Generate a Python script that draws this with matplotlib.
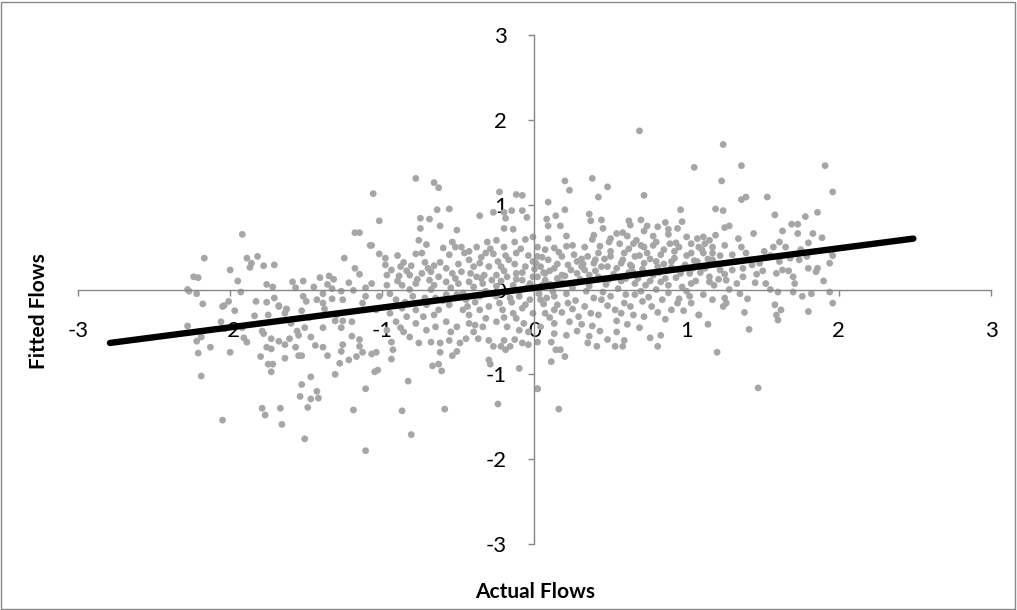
import matplotlib.pyplot as plt
from matplotlib.patches import Rectangle
import numpy as np

# (actual, fitted) pairs, grouped by region
left_pts = [
    (-2.28, 0.0), (-2.24, 0.15), (-2.17, 0.37), (-2.21, 0.14), (-2.27, -0.02), (-2.22, -0.05),
    (-2.18, -0.17), (-1.92, 0.65), (-2.0, 0.23), (-1.89, 0.37), (-1.82, 0.39), (-1.86, 0.31),
    (-1.87, 0.26), (-1.78, 0.28), (-1.71, 0.29), (-1.76, 0.06), (-1.72, 0.03), (-1.59, 0.09),
    (-1.52, 0.10), (-1.57, 0.02), (-1.41, 0.14), (-1.35, 0.16), (-1.32, 0.12), (-1.25, 0.37),
    (-1.18, 0.67), (-1.15, 0.67), (-1.18, 0.25), (-1.15, 0.18), (-1.36, 0.06), (-1.33, 0.01),
    (-1.93, -0.03), (-2.01, -0.14), (-2.04, -0.19), (-1.83, -0.14), (-1.76, -0.15), (-1.71, -0.10),
    (-1.68, -0.19), (-1.63, -0.23), (-1.52, -0.08), (-1.50, -0.14), (-1.43, -0.12), (-1.39, -0.05),
    (-1.39, -0.16), (-1.33, -0.11), (-1.27, -0.02), (-1.26, -0.12), (-1.19, -0.01), (-1.11, -0.08),
    (-1.11, 0.02), (-1.08, 0.52), (-1.97, -0.25), (-1.68, -0.20), (-1.63, -0.23), (-1.84, -0.31),
    (-1.75, -0.30), (-1.64, -0.28), (-1.53, -0.25), (-1.38, -0.23), (-1.13, -0.16), (-2.28, -0.43),
    (-2.06, -0.38), (-2.22, -0.61), (-2.19, -0.56), (-2.21, -0.75), (-2.13, -0.68), (-2.0, -0.74),
    (-2.19, -1.02), (-2.05, -1.54), (-1.79, -0.49), (-1.78, -0.52), (-1.91, -0.57), (-1.89, -0.62),
    (-1.73, -0.58), (-1.68, -0.61), (-1.64, -0.65), (-1.61, -0.58), (-1.76, -0.68), (-1.73, -0.70),
    (-1.80, -0.79), (-1.75, -0.88), (-1.72, -0.88), (-1.73, -0.97), (-1.64, -0.81), (-1.56, -0.49),
    (-1.55, -0.54), (-1.51, -0.45), (-1.47, -0.56), (-1.57, -0.68), (-1.55, -0.78), (-1.53, -0.78),
    (-1.44, -0.66), (-1.39, -0.45), (-1.39, -0.68), (-1.36, -0.78), (-1.31, -0.37), (-1.27, -0.45),
    (-1.26, -0.37), (-1.20, -0.38), (-1.26, -0.65), (-1.27, -0.73), (-1.28, -0.87), (-1.22, -0.83),
    (-1.17, -0.79), (-1.15, -0.59), (-1.15, -0.67), (-1.13, -0.74), (-1.31, -1.00), (-1.47, -1.03),
    (-1.53, -1.12), (-1.54, -1.26), (-1.47, -1.29), (-1.43, -1.20), (-1.42, -1.28), (-1.49, -1.39),
    (-1.66, -1.59), (-1.67, -1.40), (-1.79, -1.40), (-1.77, -1.48), (-1.51, -1.76), (-1.19, -1.42),
    (-1.11, -1.17), (-1.11, -1.90), (-2.05, -0.20), (-1.95, 0.10), (-1.45, 0.03), (-1.22, 0.08),
    (-1.30, -0.30), (-1.48, -0.33), (-1.92, -0.45), (-1.60, -0.40), (-1.20, -0.55),
]

center_pts = [
    (-1.06, 1.13), (-0.78, 1.31), (-0.66, 1.26), (-0.63, 1.20), (-1.02, 0.81), (-0.75, 0.84),
    (-0.69, 0.83), (-0.64, 0.94), (-0.56, 0.95), (-0.75, 0.72), (-0.62, 0.75), (-0.51, 0.70),
    (-0.36, 0.87), (-0.27, 0.91), (-0.23, 1.15), (-0.12, 1.12), (-0.08, 1.11), (-0.20, 0.91),
    (-0.15, 0.93), (-0.19, 0.84), (-0.08, 0.93), (-0.05, 0.85), (-0.20, 0.72), (-0.14, 0.71),
    (-1.07, 0.52), (-0.76, 0.58), (-0.71, 0.53), (-0.60, 0.49), (-0.54, 0.56), (-0.52, 0.50),
    (-1.02, 0.42), (-0.98, 0.37), (-0.90, 0.40), (-0.98, 0.29), (-0.86, 0.32), (-0.88, 0.27),
    (-0.81, 0.28), (-0.78, 0.42), (-0.74, 0.43), (-0.72, 0.32), (-0.66, 0.28), (-0.62, 0.32),
    (-0.56, 0.41), (-0.48, 0.50), (-0.46, 0.43), (-0.43, 0.45), (-0.38, 0.50), (-0.31, 0.56),
    (-0.25, 0.58), (-0.20, 0.50), (-0.13, 0.56), (-0.06, 0.59), (-0.01, 0.62), (-0.32, 0.43),
    (-0.27, 0.42), (-0.19, 0.40), (-0.12, 0.43), (-0.43, 0.35), (-0.36, 0.31), (-0.30, 0.27),
    (-0.22, 0.27), (-0.13, 0.30), (-0.06, 0.27), (-0.01, 0.33), (-0.97, 0.17), (-0.89, 0.16),
    (-0.82, 0.17), (-0.74, 0.19), (-0.68, 0.21), (-0.63, 0.15), (-0.54, 0.19), (-0.48, 0.21),
    (-0.42, 0.19), (-0.38, 0.15), (-0.33, 0.17), (-0.25, 0.17), (-0.18, 0.15), (-0.12, 0.19),
    (-1.07, 0.07), (-0.97, 0.05), (-0.87, 0.05), (-0.78, 0.07), (-0.69, 0.11), (-0.58, 0.09),
    (-0.50, 0.07), (-0.43, 0.09), (-0.34, 0.07), (-0.28, 0.11), (-0.08, 0.11), (-0.01, 0.15),
    (-1.04, -0.74), (-1.07, -0.76), (-1.03, -0.95), (-1.05, -0.97), (-0.94, -0.62), (-0.93, -0.71),
    (-0.94, -0.82), (-0.86, -0.50), (-0.83, -1.08), (-0.87, -1.43), (-0.81, -1.71), (-0.59, -1.41),
    (-0.24, -1.35), (-0.10, -0.93), (0.02, -1.17), (-0.76, -0.63), (-0.71, -0.48), (-0.68, -0.62),
    (-0.67, -0.90), (-0.63, -0.88), (-0.61, -0.96), (-0.62, -0.63), (-0.62, -0.74), (-0.56, -0.60),
    (-0.54, -0.78), (-0.51, -0.73), (-0.49, -0.63), (-0.45, -0.58), (-0.39, -0.42), (-0.37, -0.58),
    (-0.30, -0.60), (-0.30, -0.83), (-0.29, -0.88), (-0.27, -0.67), (-0.22, -0.67), (-0.20, -0.60),
    (-0.19, -0.71), (-0.16, -0.67), (-0.13, -0.59), (-0.08, -0.63), (-0.04, -0.65), (-0.78, -0.40),
    (-0.73, -0.32), (-0.65, -0.44), (-0.58, -0.38), (-0.51, -0.44), (-0.43, -0.40), (-0.34, -0.44),
    (-0.25, -0.38), (-0.18, -0.44), (-0.10, -0.48), (-0.07, -0.40), (-0.91, -0.38), (-0.97, -0.48),
    (-0.84, -0.32), (-1.04, -0.24), (-0.95, -0.28), (-0.87, -0.22), (-0.78, -0.24), (-0.71, -0.18),
    (-0.63, -0.24), (-0.56, -0.18), (-0.47, -0.24), (-0.43, -0.30), (-0.36, -0.24), (-0.30, -0.20),
    (-0.21, -0.24), (-0.14, -0.28), (-0.08, -0.22), (-0.01, -0.28), (-1.02, -0.08), (-0.91, -0.12),
    (-0.80, -0.08), (-0.65, -0.10), (-0.51, -0.06), (-0.45, -0.12), (-0.36, -0.08), (-0.25, -0.08),
    (-0.16, -0.10), (-0.10, -0.08), (-0.03, -0.12), (-0.05, 0.02), (-0.12, 0.12), (-0.18, -0.03),
    (-0.25, 0.04), (-0.32, -0.02), (-0.40, 0.03), (-0.47, -0.04), (-0.55, 0.02), (-0.60, -0.13),
    (-0.68, 0.0), (-0.72, -0.10), (-0.82, 0.0), (-0.85, -0.15), (-0.90, 0.10), (-0.95, -0.05),
    (-0.15, -0.15), (-0.06, -0.18), (0.0, 0.24), (-0.08, 0.20), (-0.20, 0.22),
    (-0.03, 0.07), (-0.10, -0.02), (-0.14, 0.05), (-0.22, 0.10), (-0.28, -0.05), (-0.35, 0.13),
    (-0.39, -0.15), (-0.44, -0.20), (-0.52, 0.13), (-0.58, -0.06), (-0.66, 0.05), (-0.70, 0.25),
    (-0.77, 0.12), (-0.84, 0.22), (-0.94, 0.23), (-0.04, 0.40), (-0.09, 0.48), (-0.17, 0.35),
    (-0.24, 0.33), (-0.29, 0.48), (-0.35, 0.38), (-0.40, 0.27), (-0.50, 0.30), (-0.58, 0.25),
    (-0.23, -0.16), (-0.12, -0.34), (-0.04, -0.50), (-0.20, -0.33), (-0.32, -0.34), (-0.40, -0.50),
    (-0.55, -0.50), (-0.66, -0.30), (-0.82, -0.56), (-0.88, -0.45),
]

right_pts = [
    (0.69, 1.87), (1.05, 1.44), (0.20, 1.28), (0.23, 1.17), (0.38, 1.31), (0.48, 1.21),
    (0.42, 1.09), (0.72, 1.11), (0.09, 1.03), (0.08, 0.83), (0.14, 0.87), (0.20, 0.94),
    (0.09, 0.75), (0.17, 0.75), (0.36, 0.89), (0.37, 0.81), (0.44, 0.82), (0.45, 0.72),
    (0.62, 0.81), (0.63, 0.76), (0.70, 0.82), (0.74, 0.75), (0.72, 0.69), (0.81, 0.74),
    (0.86, 0.79), (0.96, 0.94), (0.97, 0.80), (0.94, 0.72), (0.88, 0.71), (0.09, 0.60),
    (0.21, 0.63), (0.39, 0.64), (0.38, 0.59), (0.50, 0.60), (0.54, 0.66), (0.58, 0.67),
    (0.61, 0.63), (0.65, 0.54), (0.78, 0.63), (0.88, 0.65), (1.00, 0.62), (1.07, 0.60),
    (0.21, 0.51), (0.33, 0.50), (0.43, 0.51), (0.49, 0.56), (0.70, 0.52), (0.78, 0.52),
    (0.89, 0.54), (0.95, 0.50), (1.03, 0.54), (0.02, 0.50), (0.07, 0.47), (0.13, 0.49),
    (0.02, 0.39), (0.09, 0.35), (0.18, 0.39), (0.26, 0.41), (0.35, 0.39), (0.42, 0.43),
    (0.50, 0.39), (0.59, 0.43), (0.66, 0.39), (0.74, 0.43), (0.83, 0.41), (0.92, 0.45),
    (1.03, 0.43), (1.10, 0.47), (0.04, 0.27), (0.13, 0.25), (0.22, 0.29), (0.31, 0.27),
    (0.39, 0.31), (0.48, 0.27), (0.57, 0.31), (0.64, 0.27), (0.72, 0.31), (0.81, 0.27),
    (0.90, 0.33), (0.99, 0.29), (1.07, 0.33), (0.07, 0.19), (0.18, 0.17), (0.28, 0.19),
    (0.07, 0.11), (0.02, 0.15), (0.66, 0.07), (0.88, 0.05), (1.03, 0.07),
    (0.02, -1.17), (0.16, -1.41), (0.11, -0.85), (0.20, -0.79), (0.14, -0.71), (0.17, -0.71),
    (0.02, -0.62), (0.11, -0.62), (0.21, -0.54), (0.28, -0.49), (0.35, -0.63), (0.41, -0.67),
    (0.48, -0.59), (0.53, -0.67), (0.58, -0.67), (0.59, -0.60), (0.54, -0.50), (0.61, -0.41),
    (0.69, -0.45), (0.76, -0.57), (0.81, -0.67), (0.83, -0.54), (0.65, -0.30), (1.08, -0.30),
    (0.36, -0.55), (0.43, -0.49), (0.13, -0.52), (0.31, -0.41), (0.38, -0.43), (0.54, -0.37),
    (0.23, -0.38), (0.13, -0.40), (0.04, -0.44), (0.04, -0.12), (0.13, -0.08), (0.22, -0.16),
    (0.33, -0.20), (0.44, -0.12), (0.53, -0.24), (0.50, -0.08), (0.66, -0.06), (0.77, -0.20),
    (0.84, -0.12), (0.90, -0.24), (0.94, -0.16), (1.02, -0.08), (1.03, -0.16), (0.71, -0.14),
    (0.59, -0.16), (0.37, -0.28), (0.13, -0.24), (0.07, -0.28),
    (0.05, 0.05), (0.12, -0.02), (0.18, 0.08), (0.25, 0.02), (0.30, 0.12), (0.36, 0.04),
    (0.42, 0.15), (0.47, 0.06), (0.52, 0.18), (0.57, 0.10), (0.62, 0.20), (0.68, 0.13),
    (0.73, 0.05), (0.78, 0.17), (0.83, 0.09), (0.87, 0.22), (0.93, 0.14), (0.97, 0.03),
    (1.02, 0.19), (1.06, 0.10), (0.08, -0.10), (0.15, -0.18), (0.21, -0.05), (0.27, -0.13),
    (0.34, -0.02), (0.39, -0.10), (0.45, -0.03), (0.55, 0.01), (0.60, -0.06), (0.70, -0.02),
    (0.75, -0.09), (0.80, 0.0), (0.88, -0.04), (0.95, -0.11), (1.00, -0.02), (0.10, 0.22),
    (0.20, 0.16), (0.33, 0.23), (0.44, 0.27), (0.58, 0.35), (0.63, 0.29), (0.76, 0.36),
    (0.85, 0.30), (0.92, 0.37), (0.98, 0.26), (1.05, 0.34), (0.03, -0.05), (0.05, 0.38),
    (0.15, 0.30), (0.28, 0.33), (0.40, 0.35), (0.50, 0.45), (0.62, 0.48), (0.72, 0.50),
    (0.85, 0.47), (0.93, 0.55),
    (0.01, 0.31), (0.06, 0.20), (0.10, 0.06), (0.15, 0.13), (0.24, 0.23), (0.27, 0.08),
    (0.32, 0.30), (0.36, 0.17), (0.40, 0.22), (0.46, 0.36), (0.49, 0.12), (0.54, 0.25),
    (0.60, 0.13), (0.65, 0.20), (0.69, 0.40), (0.71, 0.24), (0.76, 0.10), (0.80, 0.33),
    (0.82, 0.20), (0.86, 0.13), (0.90, 0.26), (0.96, 0.19), (1.00, 0.40), (1.04, 0.25),
    (0.06, -0.17), (0.10, -0.33), (0.18, -0.27), (0.25, -0.23), (0.29, -0.32), (0.42, -0.30),
    (0.48, -0.19), (0.57, -0.28), (0.63, -0.20), (0.72, -0.32), (0.81, -0.27), (0.86, -0.35),
    (0.98, -0.25), (0.16, 0.44), (0.25, 0.52), (0.31, 0.36), (0.56, 0.54), (0.67, 0.58),
    (0.80, 0.56), (1.08, 0.50),
    (1.24, 1.71), (1.36, 1.46), (1.91, 1.46), (1.23, 1.28), (1.96, 1.15), (1.36, 1.06),
    (1.39, 1.09), (1.53, 1.09), (1.19, 0.95), (1.24, 0.93), (1.58, 0.88), (1.86, 0.91),
    (1.78, 0.86), (1.25, 0.73), (1.28, 0.75), (1.44, 0.66), (1.69, 0.77), (1.73, 0.77),
    (1.63, 0.69), (1.73, 0.66), (1.83, 0.66), (1.89, 0.61), (1.34, 0.60), (1.61, 0.56),
    (1.57, 0.50), (1.80, 0.55), (1.75, 0.47), (1.96, 0.40), (1.94, 0.31), (1.11, 0.62),
    (1.15, 0.58), (1.19, 0.64), (1.12, 0.54), (1.17, 0.50), (1.25, 0.52), (1.36, 0.50),
    (1.17, 0.43), (1.30, 0.41), (1.39, 0.43), (1.51, 0.45), (1.11, 0.43), (1.17, 0.35),
    (1.43, 0.29), (1.61, 0.33), (1.68, 0.37), (1.74, 0.35), (1.79, 0.39), (1.37, 0.25),
    (1.48, 0.31), (1.59, 0.19), (1.63, 0.23), (1.67, 0.22), (1.85, 0.21), (1.86, 0.25),
    (1.37, 0.15), (1.46, 0.18), (1.22, 0.23), (1.30, 0.23), (1.26, 0.11), (1.15, 0.15),
    (1.52, 0.07), (1.71, 0.07), (1.15, 0.09), (1.12, 0.25), (1.20, 0.30), (1.25, 0.18),
    (1.32, 0.33), (1.18, 0.05), (1.28, 0.0), (1.35, -0.05), (1.45, 0.08), (1.50, 0.22),
    (1.55, 0.40), (1.65, 0.50), (1.70, 0.15), (1.80, 0.25), (1.90, 0.10), (1.95, 0.45),
    (1.17, -0.12), (1.25, -0.10), (1.26, -0.16), (1.24, -0.20), (1.40, -0.11), (1.38, -0.27),
    (1.41, -0.47), (1.14, -0.41), (1.08, -0.30), (1.20, -0.74), (1.47, -1.16), (1.58, -0.18),
    (1.62, -0.24), (1.59, -0.30), (1.60, -0.36), (1.60, -0.03), (1.70, -0.03), (1.76, -0.08),
    (1.82, -0.05), (1.80, -0.26), (1.96, -0.16), (1.94, -0.03), (1.55, 0.0), (1.11, -0.06),
    (1.14, 0.36), (1.21, 0.12), (1.33, 0.07), (1.41, 0.35), (1.09, 0.20), (1.22, 0.40),
]

# trend line end points
fit_x = [-2.79, 2.49]
fit_y = [-0.63, 0.60]

axis_ticks = [-3, -2, -1, 0, 1, 2, 3]


def main():
    pts = np.array(left_pts + center_pts + right_pts)
    fig = plt.figure(figsize=(10.17, 6.10), dpi=100, facecolor="white")
    ax = fig.add_axes([0.0767, 0.1082, 0.8977, 0.8344])

    ax.scatter(pts[:, 0], pts[:, 1], s=24, color="#a6a6a6", edgecolors="none", zorder=2)
    ax.plot(fit_x, fit_y, color="black", linewidth=4.6, solid_capstyle="round", zorder=3)

    ax.set_xlim(-3, 3)
    ax.set_ylim(-3, 3)
    ax.set_xticks(axis_ticks)
    ax.set_yticks(axis_ticks)
    ax.set_xticklabels([str(t) for t in axis_ticks])
    ax.set_yticklabels([str(t) for t in axis_ticks])

    for side in ("left", "bottom"):
        ax.spines[side].set_position("zero")
        ax.spines[side].set_color("#868686")
        ax.spines[side].set_linewidth(1.0)
    ax.spines["top"].set_visible(False)
    ax.spines["right"].set_visible(False)

    ax.tick_params(axis="both", direction="out", length=4, width=1.0, color="#868686",
                   labelsize=16, labelcolor="black")
    ax.tick_params(axis="x", pad=19)
    ax.tick_params(axis="y", pad=16)
    for lab in ax.get_xticklabels() + ax.get_yticklabels():
        lab.set_fontfamily("Lato")

    fig.text(0.038, 0.49, "Fitted Flows", rotation=90, ha="center", va="center",
             fontsize=15, fontweight="bold", family="Lato")
    fig.text(0.526, 0.03, "Actual Flows", ha="center", va="center",
             fontsize=15, fontweight="bold", family="Lato")

    fig.patches.append(Rectangle((0.001, 0.002), 0.997, 0.995, transform=fig.transFigure,
                                 fill=False, edgecolor="#868686", linewidth=1.0))

    fig.savefig("out.png", dpi=100, facecolor="white")
    plt.close(fig)


if __name__ == "__main__":
    main()
